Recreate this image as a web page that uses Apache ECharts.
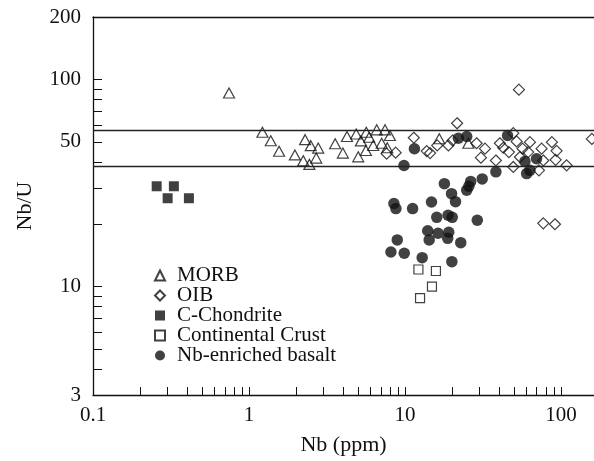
<!DOCTYPE html>
<html><head><meta charset="utf-8">
<script src="https://cdn.jsdelivr.net/npm/echarts@6/dist/echarts.min.js"></script>
<style>html,body{margin:0;padding:0;background:#fff}#c{width:594px;height:461px}</style>
</head><body><div id="c"></div>
<script>
// ---- data ----
const seriesNames = ['MORB', 'OIB', 'C-Chondrite', 'Continental Crust', 'Nb-enriched basalt'];

const morbNb    = [0.745,1.22,1.38,1.56,1.97,2.29,2.49,2.78,2.23,2.44,2.70,3.57,4.0,4.25,4.87,5.22,5.65,5.90,6.59,7.45,8.01,6.26,7.09,5.62,5.02,7.70,16.6,25.5];
const morbRatio = [86,55.6,50.6,45.0,43.2,51.2,47.9,46.6,40.5,38.9,41.7,48.9,44.1,53.0,54.5,50.5,55.6,52.6,57.1,57.1,53.6,48.0,49.2,45.4,42.3,46.8,51.7,49.2];

const oibNb    = [11.4,13.8,14.5,16.1,19.0,20.2,21.6,28.8,32.6,30.7,38.3,40.6,42.7,46.4,49.5,52.0,53.8,56.8,63.3,61.7,54.6,49.5,72.3,75.2,87.5,93.8,92.5,108.8,77.1,158,7.63,8.72,77.1,91.6];
const oibRatio = [52.3,45.1,44.1,48.0,48.0,50.7,61.4,49.2,46.3,41.9,40.6,49.2,46.8,44.6,55.0,50.2,89.2,46.3,49.8,44.6,42.2,37.8,36.4,46.3,49.8,45.2,40.9,38.5,40.6,51.6,43.8,44.3,20.2,20.0];

const chondNb    = [0.256,0.330,0.301,0.412];
const chondRatio = [30.5,30.5,26.7,26.7];

const crustNb    = [12.2,15.8,14.9,12.5];
const crustRatio = [12.1,11.9,10.0,8.8];

const basaltNb    = [9.86,11.5,22.0,24.9,45.5,58.8,69.8,60.3,63.3,38.3,31.3,26.4,17.9,24.9,19.9,21.1,14.8,8.5,8.75,11.2,16.0,18.9,20.1,29.1,14.0,16.3,19.1,18.8,14.3,8.93,22.8,8.13,9.9,12.9,20.0,25.7];
const basaltRatio = [38.4,46.3,52.0,53.0,53.6,40.2,41.4,35.1,36.4,35.8,33.1,32.2,31.4,29.2,28.1,25.7,25.6,25.2,23.8,23.8,21.6,22.1,21.6,20.9,18.6,18.1,18.3,17.1,16.8,16.8,16.3,14.7,14.5,13.8,13.2,30.5];

const refLines = [57, 38];

const xMin = 0.1, xMax = 163;   // the frame runs off the right edge of the picture
const yMin = 3, yMax = 200;
const xLabelValues = [0.1, 1, 10, 100];
const xTickValues = [0.2,0.3,0.4,0.5,0.6,0.7,0.8,0.9,1,2,3,4,5,6,7,8,9,10,20,30,40,50,60,70,80,90,100];
const yLabelValues = [3, 10, 50, 100, 200];
const yTickValues = [4,5,6,7,8,9,10,20,30,40,50,60,70,80,90,100];

// ---- chart ----
const zip = (a, b) => a.map((v, i) => [v, b[i]]);
const FONT = 'Liberation Serif, Times New Roman, DejaVu Serif, serif';
const INK = '#111';

const chart = echarts.init(document.getElementById('c'), null, {renderer: 'canvas'});
chart.setOption({
  animation: false,
  backgroundColor: '#fff',
  textStyle: {fontFamily: FONT},
  grid: {left: 93, top: 17, bottom: 66, right: 0},
  legend: {
    orient: 'vertical', left: 149, top: 260,
    itemWidth: 10, itemHeight: 10, itemGap: -1,
    textStyle: {fontFamily: FONT, fontSize: 21, color: '#111', lineHeight: 18, padding: [0, 0, 0, 7]},
    data: seriesNames
  },
  xAxis: [{
    type: 'log', logBase: 10, min: xMin, max: xMax,
    name: 'Nb (ppm)', nameLocation: 'middle', nameGap: 39,
    nameTextStyle: {fontFamily: FONT, fontSize: 22, color: '#111'},
    axisLine: {show: true, lineStyle: {color: INK, width: 1.3}},
    axisTick: {show: true, inside: true, length: 8, customValues: xTickValues, lineStyle: {color: INK, width: 1}},
    splitLine: {show: false},
    axisLabel: {customValues: xLabelValues, fontFamily: FONT, fontSize: 21, color: '#111', margin: 10}
  }, {
    type: 'log', logBase: 10, min: xMin, max: xMax, position: 'top',
    axisLine: {show: true, lineStyle: {color: INK, width: 1.3}},
    axisTick: {show: false}, axisLabel: {show: false}, splitLine: {show: false}
  }],
  yAxis: {
    type: 'log', logBase: 10, min: yMin, max: yMax,
    name: 'Nb/U', nameLocation: 'middle', nameGap: 57, nameRotate: 90,
    nameTextStyle: {fontFamily: FONT, fontSize: 22, color: '#111'},
    axisLine: {show: true, lineStyle: {color: INK, width: 1.3}},
    axisTick: {show: true, inside: true, length: 9, customValues: yTickValues, lineStyle: {color: INK, width: 1}},
    splitLine: {show: false},
    axisLabel: {customValues: yLabelValues, fontFamily: FONT, fontSize: 21, color: '#111', margin: 12}
  },
  series: [
    {
      name: 'MORB', type: 'scatter', symbol: 'triangle', symbolSize: [11, 10],
      itemStyle: {color: 'rgba(255,255,255,0)', borderColor: INK, borderWidth: 1.2},
      data: zip(morbNb, morbRatio),
      markLine: {
        silent: true, symbol: 'none', label: {show: false},
        lineStyle: {color: '#222', width: 1.3, type: 'solid'},
        emphasis: {disabled: true},
        data: refLines.map(v => ({yAxis: v}))
      }
    },
    {
      name: 'OIB', type: 'scatter', symbol: 'diamond', symbolSize: 11,
      itemStyle: {color: 'rgba(255,255,255,0)', borderColor: INK, borderWidth: 1.2},
      data: zip(oibNb, oibRatio)
    },
    {
      name: 'C-Chondrite', type: 'scatter', symbol: 'rect', symbolSize: 10,
      itemStyle: {color: '#111'},
      data: zip(chondNb, chondRatio)
    },
    {
      name: 'Continental Crust', type: 'scatter', symbol: 'rect', symbolSize: 9,
      itemStyle: {color: 'rgba(255,255,255,0)', borderColor: INK, borderWidth: 1.2},
      data: zip(crustNb, crustRatio)
    },
    {
      name: 'Nb-enriched basalt', type: 'scatter', symbol: 'circle', symbolSize: 11.5,
      itemStyle: {color: '#111'},
      data: zip(basaltNb, basaltRatio)
    }
  ]
});
</script>
</body></html>
